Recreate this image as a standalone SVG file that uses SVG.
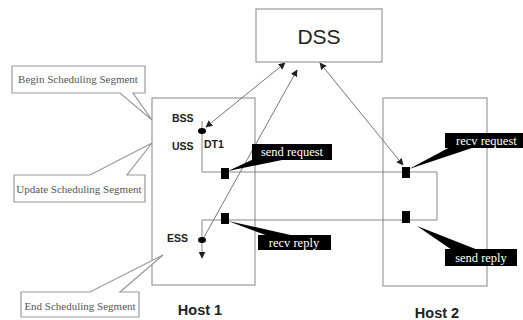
<svg xmlns="http://www.w3.org/2000/svg" width="523" height="320" viewBox="0 0 523 320">
<defs>
<style>
.box{fill:#fff;stroke:#999;stroke-width:1.2}
.ln{fill:none;stroke:#888;stroke-width:1}
.conn{fill:none;stroke:#777;stroke-width:1}
.lbl{font-family:"Liberation Sans",Arial,sans-serif;font-weight:bold;fill:#222}
.note{font-family:"Liberation Serif","Times New Roman",serif;font-size:11px;fill:#555}
.tag{font-family:"Liberation Serif","Times New Roman",serif;font-size:12.5px;fill:#fff}
.sq{fill:#000}
</style>
<marker id="ah" viewBox="0 0 10 10" refX="9" refY="5" markerWidth="7" markerHeight="7" orient="auto-start-reverse" markerUnits="userSpaceOnUse">
<path d="M0,0 L10,5 L0,10 Z" fill="#222"/>
</marker>
</defs>
<rect width="523" height="320" fill="#fff"/>

<g id="dss">
<rect class="box" x="256" y="9" width="126" height="53"/>
<text x="319" y="44" text-anchor="middle" font-family="'Liberation Sans',Arial,sans-serif" font-size="21" fill="#222">DSS</text>
</g>

<g id="host1">
<rect class="box" x="152" y="98" width="103" height="187"/>
<text class="lbl" x="200" y="315" text-anchor="middle" font-size="14.5">Host 1</text>
<text class="lbl" x="172" y="122" font-size="10.5">BSS</text>
<text class="lbl" x="172" y="150" font-size="10.5">USS</text>
<text class="lbl" x="204" y="148" font-size="10.5">DT1</text>
<text class="lbl" x="167" y="242" font-size="10.5">ESS</text>
</g>

<g id="host2">
<rect class="box" x="383" y="98" width="104" height="188"/>
<text class="lbl" x="437" y="318" text-anchor="middle" font-size="14.5">Host 2</text>
</g>

<g id="connectors">
<path class="ln" d="M202,121 V172 H437 V220 H202 V258" marker-end="url(#ah)"/>
<line class="conn" x1="206" y1="127" x2="285" y2="63" marker-start="url(#ah)" marker-end="url(#ah)"/>
<line class="conn" x1="203" y1="239" x2="297" y2="70" marker-end="url(#ah)"/>
<line class="conn" x1="320" y1="63" x2="403" y2="165" marker-start="url(#ah)" marker-end="url(#ah)"/>
</g>

<g id="dots">
<ellipse cx="202" cy="131" rx="4" ry="3" fill="#000"/>
<ellipse cx="202" cy="240" rx="4" ry="3" fill="#000"/>
</g>

<g id="squares">
<rect class="sq" x="221" y="168" width="8" height="11"/>
<rect class="sq" x="221" y="213" width="8" height="11"/>
<rect class="sq" x="402" y="167" width="8" height="11"/>
<rect class="sq" x="402" y="211" width="8" height="12"/>
</g>

<g id="tag-send-request">
<polygon points="228,171 258,157 282,160" fill="#000"/>
<rect x="252" y="144" width="80" height="16" fill="#000"/>
<text class="tag" x="292" y="156" text-anchor="middle">send request</text>
</g>
<g id="tag-recv-request">
<polygon points="409,169 452,146 472,148" fill="#000"/>
<rect x="445" y="133" width="78" height="15" fill="#000"/>
<text class="tag" x="456" y="145">recv request</text>
</g>
<g id="tag-recv-reply">
<polygon points="228,221 268,236 295,236" fill="#000"/>
<rect x="258" y="235" width="73" height="15" fill="#000"/>
<text class="tag" x="294" y="247" text-anchor="middle">recv reply</text>
</g>
<g id="tag-send-reply">
<polygon points="417,226 452,250 478,250" fill="#000"/>
<rect x="445" y="249" width="72" height="17" fill="#000"/>
<text class="tag" x="481" y="262" text-anchor="middle">send reply</text>
</g>

<g id="note-begin">
<path class="box" d="M12,66 H145 V93 H133 L152,120 L120,93 H12 Z"/>
<text class="note" x="78" y="83" text-anchor="middle">Begin Scheduling Segment</text>
</g>
<g id="note-update">
<path class="box" d="M14,175 H90 L152,143 L127,175 H145 V202 H14 Z"/>
<text class="note" x="79" y="193" text-anchor="middle">Update Scheduling Segment</text>
</g>
<g id="note-end">
<path class="box" d="M21,292 H90 L163,255 L120,292 H139 V317 H21 Z"/>
<text class="note" x="80" y="310" text-anchor="middle">End Scheduling Segment</text>
</g>
</svg>
